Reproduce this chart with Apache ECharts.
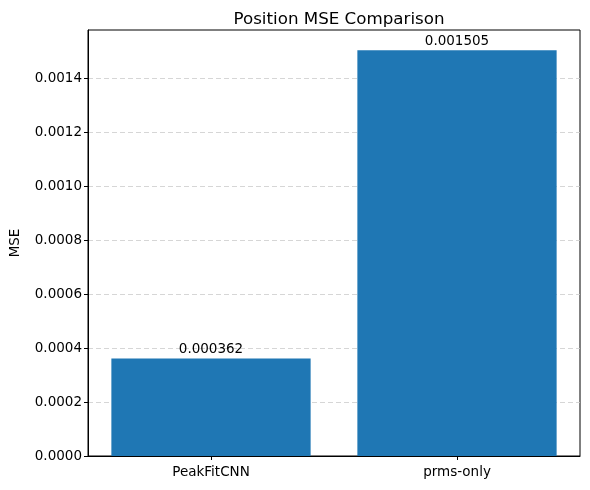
<!DOCTYPE html>
<html>
<head>
<meta charset="utf-8">
<script src="https://cdn.jsdelivr.net/npm/echarts@6/dist/echarts.min.js"></script>
<style>html,body{margin:0;padding:0;background:#fff}#c{width:590px;height:490px}</style>
</head>
<body>
<div id="c"></div>
<script>
const categories = ['PeakFitCNN', 'prms-only'];
const mseValues = [0.000362, 0.001505];
const yTicks = [0, 0.0002, 0.0004, 0.0006, 0.0008, 0.0010, 0.0012, 0.0014];
const titleText = 'Position MSE Comparison';
const yAxisName = 'MSE';

const chart = echarts.init(document.getElementById('c'), null, {renderer: 'canvas'});
const font = 'DejaVu Sans';
chart.setOption({
  animation: false,
  backgroundColor: '#fff',
  title: {
    text: titleText, left: 334, textAlign: 'center', top: 6,
    textStyle: {fontFamily: font, fontSize: 16.7, fontWeight: 'normal', color: '#000'}
  },
  grid: {left: 88, right: 10, top: 30, bottom: 34, containLabel: false, outerBoundsMode: 'none',
    show: true, borderColor: '#000', borderWidth: 1, backgroundColor: 'transparent'},
  xAxis: {
    type: 'category', data: categories,
    axisLine: {show: true, lineStyle: {color: '#000', width: 1}},
    axisTick: {show: true, alignWithLabel: true, length: 4, lineStyle: {color: '#000'}},
    axisLabel: {fontFamily: font, fontSize: 13.5, color: '#000', margin: 9},
    splitLine: {show: false}
  },
  yAxis: {
    type: 'value', min: 0, max: 0.00158, interval: 0.0002,
    name: yAxisName, nameLocation: 'middle', nameGap: 66, nameRotate: 90,
    nameTextStyle: {fontFamily: font, fontSize: 13.5, color: '#000'},
    axisLine: {show: true, lineStyle: {color: '#000', width: 1}},
    axisTick: {show: true, length: 4, lineStyle: {color: '#000'}, customValues: yTicks},
    axisLabel: {fontFamily: font, fontSize: 13.5, color: '#000', margin: 6, customValues: yTicks,
      formatter: v => v.toFixed(4)},
    splitLine: {show: true, lineStyle: {color: '#cccccc', type: [5, 3], width: 0.8}}
  },
  series: [{
    type: 'bar', data: mseValues, barCategoryGap: '19%',
    itemStyle: {color: '#1f77b4'},
    label: {show: true, position: 'top', distance: 1.5, fontFamily: font, fontSize: 13.5, color: '#000',
      formatter: p => p.value.toFixed(6)}
  }]
});
</script>
</body>
</html>
